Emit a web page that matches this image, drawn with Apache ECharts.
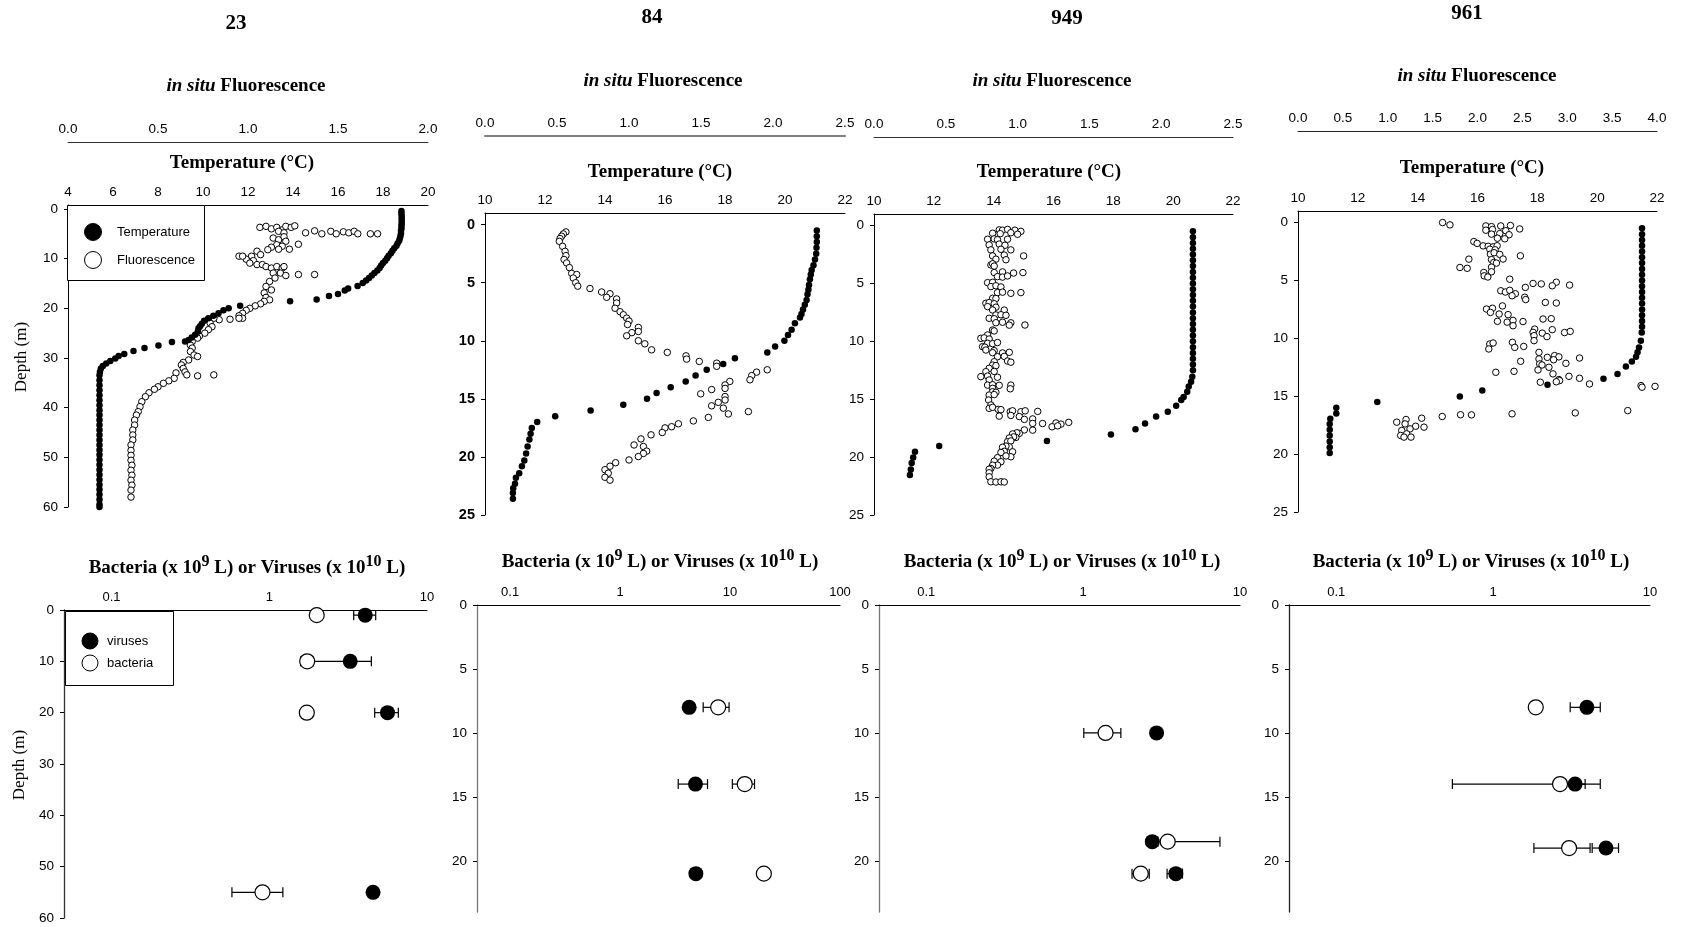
<!DOCTYPE html>
<html><head><meta charset="utf-8">
<script src="https://cdn.jsdelivr.net/npm/echarts@6/dist/echarts.min.js"></script>
<style>html,body{margin:0;padding:0;background:#fff}#chart{width:1683px;height:927px}</style>
</head><body><div id="chart"></div>
<script>
// ---------------- DATA ----------------
const stationNames = ['23', '84', '949', '961'];
const profileLegend = ['Temperature', 'Fluorescence'];
const countLegend = ['viruses', 'bacteria'];

// tick labels
const depthTicksDeep = [0, 10, 20, 30, 40, 50, 60];
const depthTicksShallow = [0, 5, 10, 15, 20, 25];
const depthTicksBottomShallow = [0, 5, 10, 15, 20];
const logTicks10 = [0.1, 1, 10];
const logTicks100 = [0.1, 1, 10, 100];

// Station 23 profiles: [temperature °C, depth m] and [fluorescence, depth m]
const s23Temp = [[18.82,0.4],[18.82,0.9],[18.83,1.4],[18.83,1.9],[18.83,2.4],[18.83,2.9],[18.82,3.4],[18.82,3.9],[18.8,4.4],[18.8,4.9],[18.78,5.4],[18.75,5.9],[18.72,6.4],[18.65,6.9],[18.6,7.4],[18.5,7.9],[18.42,8.4],[18.35,8.9],[18.25,9.4],[18.18,9.9],[18.1,10.4],[18.0,10.9],[17.92,11.4],[17.85,11.9],[17.75,12.4],[17.62,12.9],[17.5,13.4],[17.38,13.9],[17.25,14.4],[17.1,14.9],[16.87,15.5],[16.45,16.0],[16.3,16.4],[16.0,17.1],[15.6,17.5],[15.05,18.2],[13.87,18.6],[11.65,19.5],[11.14,20.0],[10.91,20.4],[10.69,21.0],[10.46,21.5],[10.24,22.0],[10.05,22.5],[9.95,23.1],[9.87,23.6],[9.8,24.0],[9.77,24.7],[9.65,25.3],[9.5,25.9],[9.36,26.4],[9.2,26.7],[8.62,26.8],[8.02,27.5],[7.4,28.0],[6.91,28.6],[6.5,29.2],[6.25,29.6],[6.1,30.1],[5.88,30.6],[5.7,31.1],[5.55,31.6],[5.46,32.1],[5.42,32.8],[5.4,33.5],[5.4,34.5],[5.4,35.5],[5.4,36.5],[5.4,37.5],[5.4,38.5],[5.4,39.5],[5.4,40.5],[5.4,41.5],[5.4,42.5],[5.4,43.5],[5.4,44.5],[5.4,45.5],[5.4,46.5],[5.4,47.5],[5.4,48.5],[5.4,49.5],[5.4,50.5],[5.4,51.5],[5.4,52.5],[5.4,53.5],[5.4,54.5],[5.4,55.5],[5.4,56.5],[5.4,57.5],[5.4,58.5],[5.4,59.5],[5.4,60.0]];
const s23Fluo = [[1.066,3.7],[1.1,3.5],[1.13,4.0],[1.16,3.7],[1.19,4.2],[1.21,3.5],[1.24,3.7],[1.26,3.4],[1.17,4.5],[1.2,4.8],[1.32,4.8],[1.37,4.4],[1.41,5.0],[1.46,4.5],[1.49,5.0],[1.53,4.6],[1.56,4.8],[1.59,4.5],[1.61,5.0],[1.68,5.0],[1.72,5.0],[1.14,5.85],[1.17,6.2],[1.2,5.6],[1.21,6.5],[1.16,7.2],[1.19,7.5],[1.13,7.7],[1.28,7.1],[1.23,8.1],[1.17,8.1],[1.11,8.2],[1.05,8.5],[1.07,9.2],[1.02,9.5],[0.99,10.1],[0.95,9.5],[0.97,9.5],[1.03,10.4],[1.01,10.9],[1.05,11.2],[1.08,11.2],[1.1,11.6],[1.13,11.9],[1.16,11.6],[1.19,11.9],[1.2,11.6],[1.14,12.9],[1.18,12.9],[1.21,13.4],[1.15,13.9],[1.28,13.2],[1.37,13.2],[1.12,14.6],[1.1,15.6],[1.13,16.3],[1.09,16.9],[1.1,17.8],[1.12,18.3],[1.09,18.6],[1.07,19.1],[1.04,19.5],[1.01,20.0],[0.99,20.4],[0.97,21.0],[0.95,21.5],[0.97,22.0],[0.95,22.0],[0.9,22.2],[0.84,22.3],[0.81,22.0],[0.78,22.2],[0.79,23.0],[0.8,23.7],[0.78,24.3],[0.76,25.0],[0.73,25.6],[0.72,26.0],[0.69,26.7],[0.68,27.4],[0.69,28.0],[0.68,28.7],[0.7,29.4],[0.72,29.7],[0.67,30.4],[0.64,30.9],[0.63,31.4],[0.64,32.1],[0.65,32.8],[0.66,33.4],[0.72,33.6],[0.81,33.4],[0.6,33.0],[0.59,34.1],[0.56,34.6],[0.53,35.1],[0.5,35.8],[0.48,36.3],[0.45,37.0],[0.43,37.8],[0.41,38.8],[0.4,39.8],[0.39,40.8],[0.38,41.5],[0.37,42.5],[0.37,43.5],[0.36,44.5],[0.36,45.5],[0.36,46.5],[0.35,47.5],[0.35,48.6],[0.35,49.6],[0.35,50.6],[0.355,51.6],[0.35,52.6],[0.355,53.6],[0.35,54.6],[0.355,55.6],[0.35,56.6],[0.35,58.0]];

// Station 84
const s84Temp = [[21.06,0.5],[21.06,1.0],[21.06,1.5],[21.05,2.0],[21.04,2.5],[21.0,3.0],[20.95,3.5],[20.89,3.9],[20.86,4.3],[20.83,4.7],[20.8,5.2],[20.78,5.6],[20.75,6.0],[20.72,6.5],[20.66,6.9],[20.6,7.3],[20.55,7.7],[20.5,8.0],[20.33,8.5],[20.22,9.05],[20.1,9.5],[19.98,10.0],[19.67,10.5],[19.41,11.0],[18.33,11.5],[17.94,12.0],[17.39,12.5],[17.02,13.0],[16.69,13.5],[16.19,14.0],[15.72,14.5],[15.4,15.0],[14.61,15.5],[13.52,16.0],[12.34,16.5],[11.74,17.0],[11.56,17.5],[11.52,18.0],[11.48,18.5],[11.42,19.1],[11.37,19.7],[11.31,20.3],[11.23,20.8],[11.14,21.4],[11.03,21.8],[11.0,22.3],[10.94,22.7],[10.93,23.1],[10.93,23.6]];
const s84Fluo = [[0.562,0.63],[0.544,0.8],[0.532,1.0],[0.521,1.2],[0.516,1.44],[0.539,1.87],[0.556,2.3],[0.562,2.67],[0.549,3.0],[0.567,3.3],[0.586,3.7],[0.602,4.2],[0.637,4.3],[0.613,4.6],[0.63,5.0],[0.644,5.3],[0.729,5.5],[0.81,5.8],[0.868,5.95],[0.845,6.26],[0.914,6.4],[0.914,6.75],[0.903,7.2],[0.938,7.5],[0.961,7.76],[0.984,8.05],[1.0,8.3],[0.99,8.6],[1.065,8.85],[1.065,9.2],[1.02,9.3],[0.984,9.57],[1.065,10.0],[1.11,10.26],[1.157,10.78],[1.266,11.0],[1.396,11.3],[1.4,11.58],[1.488,11.78],[1.609,11.93],[1.609,12.2],[1.96,12.5],[1.886,12.7],[1.852,13.0],[1.84,13.36],[1.7,13.5],[1.667,13.8],[1.667,14.1],[1.574,14.2],[1.498,14.57],[1.667,14.8],[1.667,15.1],[1.62,15.3],[1.574,15.6],[1.655,15.8],[1.69,16.3],[1.829,16.1],[1.551,16.6],[1.447,16.9],[1.343,17.15],[1.296,17.4],[1.25,17.5],[1.231,17.9],[1.153,18.1],[1.083,18.45],[1.035,18.97],[1.1,19.1],[1.123,19.5],[1.1,19.7],[1.065,19.97],[1.0,20.26],[0.907,20.5],[0.868,20.8],[0.833,21.1],[0.856,21.4],[0.833,21.75],[0.868,22.0]];

// Station 949
const s949Temp = [[20.66,0.5],[20.66,1.0],[20.66,1.5],[20.66,2.0],[20.66,2.5],[20.66,3.0],[20.66,3.5],[20.66,4.0],[20.66,4.5],[20.66,5.0],[20.66,5.5],[20.66,6.0],[20.66,6.5],[20.66,7.0],[20.66,7.5],[20.66,8.0],[20.66,8.5],[20.66,9.0],[20.66,9.5],[20.66,10.0],[20.66,10.5],[20.66,11.0],[20.66,11.5],[20.66,12.0],[20.66,12.5],[20.64,13.05],[20.6,13.5],[20.52,13.9],[20.47,14.35],[20.35,14.8],[20.27,15.07],[20.1,15.56],[19.82,16.08],[19.43,16.5],[19.06,17.1],[18.74,17.6],[17.92,18.04],[15.78,18.6],[12.18,19.05],[11.37,19.54],[11.31,20.03],[11.26,20.5],[11.23,21.07],[11.2,21.55]];
const s949Fluo = [[0.872,0.37],[0.895,0.4],[0.93,0.33],[0.981,0.4],[1.023,0.5],[0.826,0.66],[0.879,0.7],[0.953,0.62],[1.0,0.75],[0.791,1.18],[0.837,1.15],[0.86,1.22],[0.93,1.18],[0.802,1.67],[0.872,1.6],[0.912,1.7],[0.814,2.1],[0.884,2.05],[0.953,2.1],[0.826,2.62],[0.907,2.55],[1.042,2.62],[0.849,2.9],[0.919,2.95],[0.814,3.4],[0.826,3.3],[0.837,3.5],[0.837,4.06],[0.895,4.0],[0.972,4.1],[1.037,4.06],[0.86,4.41],[0.895,4.45],[0.93,4.35],[0.791,4.93],[0.826,4.9],[0.814,5.27],[0.849,5.2],[0.884,5.3],[0.86,5.79],[0.895,5.75],[0.953,5.85],[1.023,5.79],[0.826,6.28],[0.849,6.3],[0.779,6.71],[0.802,6.65],[0.837,6.75],[0.791,7.0],[0.849,7.05],[0.826,7.29],[0.907,7.3],[0.849,7.72],[0.884,7.7],[0.919,7.75],[0.802,8.01],[0.837,8.05],[0.849,8.39],[0.895,8.35],[0.953,8.4],[1.051,8.59],[0.942,8.6],[0.826,9.02],[0.837,9.1],[0.791,9.45],[0.744,9.74],[0.767,9.7],[0.802,9.8],[0.791,10.17],[0.826,10.2],[0.86,10.1],[0.756,10.46],[0.772,10.5],[0.779,10.75],[0.837,10.8],[0.826,10.98],[0.895,11.0],[0.942,10.95],[0.86,11.33],[0.907,11.3],[0.837,11.76],[0.93,11.7],[0.953,11.8],[0.826,12.05],[0.849,12.1],[0.802,12.33],[0.779,12.62],[0.837,12.6],[0.744,13.05],[0.791,13.0],[0.86,13.1],[0.802,13.34],[0.791,13.78],[0.826,13.75],[0.872,13.8],[0.953,13.78],[0.826,14.06],[0.949,14.1],[0.826,14.35],[0.849,14.4],[0.802,14.64],[0.837,14.6],[0.798,15.07],[0.814,15.5],[0.802,15.79],[0.826,15.7],[0.865,15.88],[0.884,15.9],[0.949,16.08],[0.965,16.0],[1.023,16.08],[1.053,16.0],[1.14,16.05],[0.872,16.46],[0.953,16.4],[1.012,16.5],[1.047,16.74],[1.105,16.7],[1.105,17.09],[1.174,17.1],[1.267,17.05],[1.302,17.15],[1.356,17.0],[1.24,17.38],[1.279,17.3],[1.105,17.67],[1.047,17.65],[1.012,17.95],[0.995,17.9],[0.965,18.0],[0.988,18.3],[0.972,18.25],[0.942,18.35],[0.93,18.67],[0.953,18.6],[0.942,19.11],[0.919,19.05],[0.895,19.15],[0.965,19.54],[0.907,19.5],[0.884,19.6],[0.953,19.97],[0.919,19.9],[0.86,20.05],[0.884,20.4],[0.837,20.35],[0.86,20.69],[0.826,20.7],[0.814,20.98],[0.802,21.05],[0.802,21.35],[0.802,21.7],[0.814,22.13],[0.849,22.15],[0.884,22.13],[0.907,22.15]];

// Station 961
const s961Temp = [[21.5,0.5],[21.5,1.0],[21.5,1.5],[21.5,2.0],[21.5,2.5],[21.5,3.0],[21.5,3.5],[21.5,4.0],[21.5,4.5],[21.5,5.0],[21.5,5.5],[21.5,6.0],[21.5,6.5],[21.5,7.0],[21.5,7.5],[21.5,8.0],[21.5,8.5],[21.5,9.0],[21.49,9.5],[21.46,10.2],[21.4,10.8],[21.35,11.2],[21.3,11.6],[21.16,12.0],[20.96,12.44],[20.68,13.07],[20.21,13.5],[18.34,14.0],[16.16,14.5],[15.41,15.03],[12.65,15.5],[11.28,16.0],[11.28,16.5],[11.08,16.95],[11.06,17.4],[11.06,17.9],[11.06,18.4],[11.06,18.9],[11.06,19.4],[11.06,19.9]];
const s961Fluo = [[1.611,0.0],[1.693,0.2],[2.093,0.29],[2.156,0.35],[2.259,0.29],[2.367,0.25],[2.093,0.66],[2.167,0.6],[2.315,0.7],[2.47,0.55],[2.156,1.0],[2.248,0.95],[2.352,1.05],[2.222,1.35],[2.304,1.4],[1.959,1.64],[1.996,1.8],[2.063,2.01],[2.119,2.05],[2.174,2.1],[2.219,2.0],[2.137,2.3],[2.196,2.35],[2.144,2.73],[2.185,2.6],[2.248,2.75],[2.478,2.87],[1.904,3.16],[2.156,3.2],[2.285,3.15],[2.181,3.45],[2.211,3.5],[1.804,3.88],[1.885,3.95],[2.156,3.85],[2.07,4.31],[2.156,4.25],[2.074,4.6],[2.115,4.7],[2.359,4.89],[2.619,5.26],[2.711,5.3],[2.878,5.15],[3.026,5.4],[2.833,5.46],[2.533,5.6],[2.259,5.89],[2.311,6.0],[2.359,5.85],[2.422,6.15],[2.385,6.32],[2.526,6.45],[2.537,6.65],[2.756,6.9],[2.878,6.95],[2.1,7.47],[2.167,7.4],[2.278,7.2],[2.144,7.76],[2.241,7.9],[2.341,7.95],[2.73,8.33],[2.822,8.3],[2.222,8.53],[2.33,8.6],[2.396,8.45],[2.507,8.55],[2.396,8.91],[2.637,9.2],[2.833,9.25],[2.619,9.48],[2.722,9.55],[2.97,9.5],[3.033,9.4],[2.63,9.77],[2.774,9.85],[2.63,10.2],[2.389,10.34],[2.137,10.49],[2.174,10.4],[2.415,10.78],[2.515,10.7],[2.126,10.92],[2.685,11.21],[2.859,11.49],[2.778,11.64],[2.907,11.6],[2.685,11.78],[2.848,11.85],[3.137,11.7],[2.985,12.16],[2.481,11.98],[2.693,12.21],[2.719,12.3],[2.796,12.5],[2.674,12.73],[2.204,12.93],[2.407,12.85],[2.841,13.07],[3.019,13.28],[3.137,13.45],[2.907,13.56],[2.915,13.65],[2.7,13.79],[2.878,13.75],[3.248,13.94],[3.822,14.08],[3.978,14.15],[3.833,14.22],[3.674,16.24],[3.089,16.44],[2.385,16.52],[1.933,16.61],[1.811,16.6],[1.607,16.75],[1.378,16.9],[1.204,17.01],[1.1,17.24],[1.193,17.39],[1.311,17.59],[1.404,17.67],[1.248,17.82],[1.156,17.96],[1.211,18.25],[1.144,18.39],[1.181,18.53],[1.259,18.53]];

// Lower panels: [value, depth]; error bars: [low, high, depth]
const s23Viruses = [[4.06,1],[3.26,10],[5.62,20],[4.55,55]];
const s23VirusErr = [[3.43,4.73,1],[1.8,4.44,10],[4.66,6.58,20]];
const s23Bacteria = [[2.0,1],[1.74,10],[1.73,20],[0.906,55]];
const s23BacteriaErr = [[1.58,1.9,10],[0.58,1.22,55]];

const s84Viruses = [[4.25,8],[4.85,14],[4.89,21]];
const s84VirusErr = [[3.38,6.24,14]];
const s84Bacteria = [[7.8,8],[13.6,14],[20.3,21]];
const s84BacteriaErr = [[5.7,9.8,8],[10.5,16.7,14]];

const s949Viruses = [[2.94,10],[2.76,18.5],[3.9,21]];
const s949VirusErr = [[3.43,4.3,21]];
const s949Bacteria = [[1.39,10],[3.46,18.5],[2.33,21]];
const s949BacteriaErr = [[1.01,1.74,10],[3.0,7.45,18.5],[2.05,2.64,21]];

const s961Viruses = [[3.96,8],[3.33,14],[5.24,19]];
const s961VirusErr = [[3.1,4.82,8],[2.9,4.82,14],[4.28,6.3,19]];
const s961Bacteria = [[1.87,8],[2.67,14],[3.05,19]];
const s961BacteriaErr = [[0.55,3.86,14],[1.82,4.15,19]];

// ---------------- LAYOUT ----------------
const SANS = '"Liberation Sans", Arial, sans-serif';
const SERIF = '"Liberation Serif", "Times New Roman", serif';

const topPanels = [
  {left:68, top:205, width:360, height:302, yMin:-0.8, yMax:60, ticks:depthTicksDeep, tMin:4, tMax:20, fMax:2, fOff:63, fColor:'#333', fWidth:1, yBold:false, temp:s23Temp, fluo:s23Fluo},
  {left:485, top:213, width:360, height:302, yMin:-1, yMax:25, ticks:depthTicksShallow, tMin:10, tMax:22, fMax:2.5, fOff:77, fColor:'#808080', fWidth:2, yBold:true, temp:s84Temp, fluo:s84Fluo},
  {left:874, top:214, width:359, height:301, yMin:-1, yMax:25, ticks:depthTicksShallow, tMin:10, tMax:22, fMax:2.5, fOff:77, fColor:'#333', fWidth:1, yBold:false, temp:s949Temp, fluo:s949Fluo},
  {left:1298, top:211, width:359, height:301, yMin:-1, yMax:25, ticks:depthTicksShallow, tMin:10, tMax:22, fMax:4, fOff:80, fColor:'#222', fWidth:1, yBold:false, temp:s961Temp, fluo:s961Fluo}
];
const bottomPanels = [
  {left:64, top:610, width:363, height:308, xMax:10, xTicks:logTicks10, yMax:60, ticks:depthTicksDeep, yColor:'#333', v:s23Viruses, ve:s23VirusErr, b:s23Bacteria, be:s23BacteriaErr},
  {left:477, top:605, width:363, height:307, xMax:100, xTicks:logTicks100, yMax:24, ticks:depthTicksBottomShallow, yColor:'#777', v:s84Viruses, ve:s84VirusErr, b:s84Bacteria, be:s84BacteriaErr},
  {left:879, top:605, width:361, height:307, xMax:10, xTicks:logTicks10, yMax:24, ticks:depthTicksBottomShallow, yColor:'#777', v:s949Viruses, ve:s949VirusErr, b:s949Bacteria, be:s949BacteriaErr},
  {left:1289, top:605, width:361, height:307, xMax:10, xTicks:logTicks10, yMax:24, ticks:depthTicksBottomShallow, yColor:'#222', v:s961Viruses, ve:s961VirusErr, b:s961Bacteria, be:s961BacteriaErr}
];

const grids = [], xAxes = [], yAxes = [], series = [];

topPanels.forEach((p, i) => {
  grids.push({left:p.left, top:p.top, width:p.width, height:p.height, containLabel:false, outerBoundsMode:'none'});
  yAxes.push({gridIndex:i, type:'value', inverse:true, min:p.yMin, max:p.yMax,
    axisLine:{show:true, onZero:false, lineStyle:{color:'#000', width:1}},
    axisTick:{show:true, length:4, customValues:p.ticks, lineStyle:{color:'#000'}},
    axisLabel:{customValues:p.ticks, color:'#000', fontSize:p.yBold?14.5:13.5, fontWeight:p.yBold?'bold':'normal', fontFamily:SANS, margin:10},
    splitLine:{show:false}});
  xAxes.push({gridIndex:i, type:'value', position:'top', min:p.tMin, max:p.tMax, interval:2,
    axisLine:{show:true, onZero:false, lineStyle:{color:'#000', width:1}},
    axisTick:{show:false},
    axisLabel:{color:'#000', fontSize:13.5, fontFamily:SANS, margin:6, showMinLabel:true, showMaxLabel:true},
    splitLine:{show:false}});
  xAxes.push({gridIndex:i, type:'value', position:'top', offset:p.fOff, min:0, max:p.fMax, interval:0.5,
    axisLine:{show:true, onZero:false, lineStyle:{color:p.fColor, width:p.fWidth}},
    axisTick:{show:false},
    axisLabel:{color:'#000', fontSize:13.5, fontFamily:SANS, margin:6, formatter:v => v.toFixed(1), showMinLabel:true, showMaxLabel:true},
    splitLine:{show:false}});
  series.push({type:'scatter', name:profileLegend[1] + ' ' + stationNames[i], xAxisIndex:2*i+1, yAxisIndex:i,
    data:p.fluo, symbol:'circle', symbolSize:6.5, silent:true, z:2,
    itemStyle:{color:'#fff', borderColor:'#000', borderWidth:1, opacity:1}});
  series.push({type:'scatter', name:profileLegend[0] + ' ' + stationNames[i], xAxisIndex:2*i, yAxisIndex:i,
    data:p.temp, symbol:'circle', symbolSize:6.5, silent:true, z:3,
    itemStyle:{color:'#000', opacity:1}});
});

function renderErrorBar(params, api) {
  const d = api.value(2);
  const a = api.coord([api.value(0), d]);
  const b = api.coord([api.value(1), d]);
  const cap = 5;
  const st = {stroke:'#000', lineWidth:1.2};
  return {type:'group', children:[
    {type:'line', shape:{x1:a[0], y1:a[1], x2:b[0], y2:b[1]}, style:st},
    {type:'line', shape:{x1:a[0], y1:a[1]-cap, x2:a[0], y2:a[1]+cap}, style:st},
    {type:'line', shape:{x1:b[0], y1:b[1]-cap, x2:b[0], y2:b[1]+cap}, style:st}
  ]};
}

bottomPanels.forEach((p, j) => {
  const gi = 4 + j, xi = 8 + j;
  grids.push({left:p.left, top:p.top, width:p.width, height:p.height, containLabel:false, outerBoundsMode:'none'});
  yAxes.push({gridIndex:gi, type:'value', inverse:true, min:0, max:p.yMax,
    axisLine:{show:true, onZero:false, lineStyle:{color:p.yColor, width:1.3}},
    axisTick:{show:true, length:4, customValues:p.ticks, lineStyle:{color:'#000'}},
    axisLabel:{customValues:p.ticks, color:'#000', fontSize:13.5, fontFamily:SANS, margin:10},
    splitLine:{show:false}});
  xAxes.push({gridIndex:gi, type:'log', logBase:10, position:'top', min:0.05, max:p.xMax,
    axisLine:{show:true, onZero:false, lineStyle:{color:'#000', width:1}},
    axisTick:{show:false},
    axisLabel:{customValues:p.xTicks, color:'#000', fontSize:13, fontFamily:SANS, margin:6,
      formatter:v => String(+Number(v).toPrecision(3))},
    splitLine:{show:false}, minorTick:{show:false}});
  series.push({type:'custom', name:'err-v-' + j, xAxisIndex:xi, yAxisIndex:gi, data:p.ve,
    encode:{x:[0,1], y:2}, renderItem:renderErrorBar, silent:true, z:1, clip:false});
  series.push({type:'custom', name:'err-b-' + j, xAxisIndex:xi, yAxisIndex:gi, data:p.be,
    encode:{x:[0,1], y:2}, renderItem:renderErrorBar, silent:true, z:1, clip:false});
  series.push({type:'scatter', name:countLegend[0] + ' ' + stationNames[j], xAxisIndex:xi, yAxisIndex:gi,
    data:p.v, symbol:'circle', symbolSize:15, silent:true, z:3, itemStyle:{color:'#000', opacity:1}});
  series.push({type:'scatter', name:countLegend[1] + ' ' + stationNames[j], xAxisIndex:xi, yAxisIndex:gi,
    data:p.b, symbol:'circle', symbolSize:15, silent:true, z:4,
    itemStyle:{color:'#fff', borderColor:'#000', borderWidth:1.2, opacity:1}});
});

// ---------------- TEXT ----------------
function txt(x, y, text, style, extra) {
  return Object.assign({type:'text', x:x, y:y, silent:true, z:10,
    style:Object.assign({text:text, fill:'#000', align:'center', verticalAlign:'middle'}, style)}, extra || {});
}
const boldSerif = (size) => ({fontFamily:SERIF, fontWeight:'bold', fontSize:size});
const inSitu = '{it|in situ} Fluorescence';
const inSituRich = {it:{fontFamily:SERIF, fontWeight:'bold', fontStyle:'italic', fontSize:19}};
const bactTitle = 'Bacteria (x 10{sup|9} L) or Viruses (x 10{sup|10} L)';
const bactRich = {sup:{fontFamily:SERIF, fontWeight:'bold', fontSize:16, padding:[0,0,13,0]}};

const titlePos = [[236,24],[652,18],[1067,19],[1467,14]];
const fluoPos = [[246,86],[663,81],[1052,81],[1477,76]];
const tempPos = [[242,163],[660,172],[1049,172],[1472,168]];
const bactPos = [[247,568],[660,562],[1062,562],[1471,562]];

const elements = [];
stationNames.forEach((s, i) => {
  elements.push(txt(titlePos[i][0], titlePos[i][1], s, boldSerif(21)));
  elements.push(txt(fluoPos[i][0], fluoPos[i][1], inSitu, Object.assign(boldSerif(19), {rich:inSituRich})));
  elements.push(txt(tempPos[i][0], tempPos[i][1], 'Temperature (°C)', boldSerif(19)));
  elements.push(txt(bactPos[i][0], bactPos[i][1], bactTitle, Object.assign(boldSerif(19), {rich:bactRich})));
});
elements.push(txt(22, 357, 'Depth (m)', {fontFamily:SERIF, fontSize:17}, {rotation:Math.PI/2}));
elements.push(txt(20, 765, 'Depth (m)', {fontFamily:SERIF, fontSize:17}, {rotation:Math.PI/2}));

// legend boxes (drawn as graphic elements)
function legendBox(box, names, markerX, textX, rowsY, r) {
  const out = [{type:'rect', silent:true, z:20, shape:{x:box[0]+0.5, y:box[1]+0.5, width:box[2], height:box[3]},
    style:{fill:'#fff', stroke:'#000', lineWidth:1}}];
  names.forEach((n, k) => {
    out.push({type:'circle', silent:true, z:21, shape:{cx:markerX, cy:rowsY[k], r:r},
      style: k === 0 ? {fill:'#000', stroke:'#000', lineWidth:1} : {fill:'#fff', stroke:'#000', lineWidth:1}});
    out.push({type:'text', silent:true, z:21, x:textX, y:rowsY[k],
      style:{text:n, fill:'#000', fontFamily:SANS, fontSize:13, align:'left', verticalAlign:'middle'}});
  });
  return out;
}
legendBox([67, 205, 137, 75], profileLegend, 93, 117, [232, 260], 8.5).forEach(e => elements.push(e));
legendBox([65, 611, 108, 74], countLegend, 90, 107, [641, 663], 8).forEach(e => elements.push(e));

const option = {
  animation:false,
  backgroundColor:'#fff',
  grid:grids, xAxis:xAxes, yAxis:yAxes, series:series,
  graphic:{elements:elements}
};

const chart = echarts.init(document.getElementById('chart'), null, {renderer:'canvas'});
chart.setOption(option);
</script></body></html>
